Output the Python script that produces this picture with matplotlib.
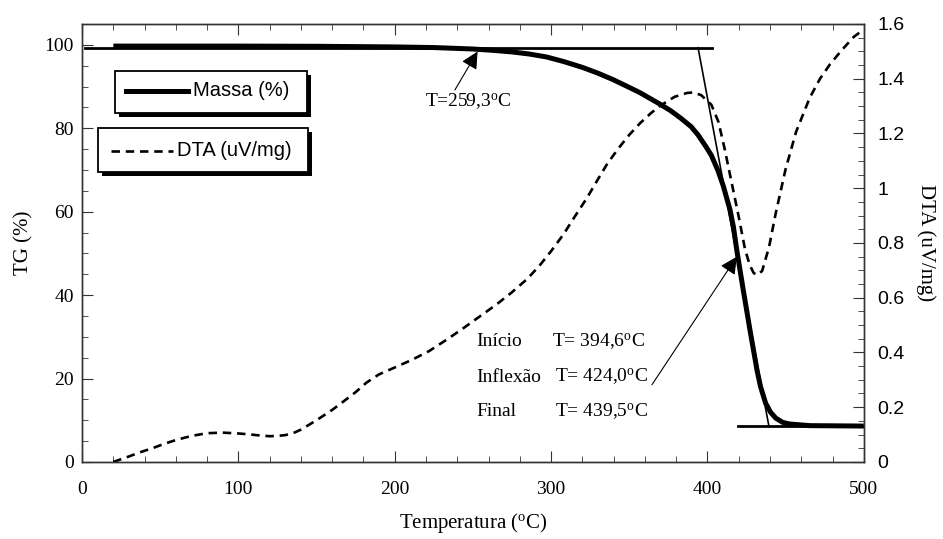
import numpy as np
import matplotlib
matplotlib.use('Agg')
import matplotlib.pyplot as plt
from matplotlib.patches import Rectangle
from matplotlib.lines import Line2D
from matplotlib.ticker import MultipleLocator, FuncFormatter

plt.rcParams['font.family'] = ['Liberation Serif', 'DejaVu Serif']
plt.rcParams['mathtext.fontset'] = 'custom'
plt.rcParams['mathtext.rm'] = 'Liberation Serif'
plt.rcParams['mathtext.it'] = 'Liberation Serif:italic'

# TG curve (Massa %)
tg_temp = [20, 100, 150, 200, 225, 250, 262, 275, 286, 297, 308, 320, 330, 340,
           350.5, 357, 363.5, 370, 376.5, 383, 389.5, 394, 399.2, 402.5, 406.8, 410.1,
           414.4, 416.6, 418.8, 423, 427.4, 431.8, 434, 437.2, 440.4, 443.7, 448,
           452.4, 465.4, 500]
tg_mass = [99.7, 99.7, 99.65, 99.5, 99.35, 99.0, 98.7, 98.3, 97.8, 97.1, 96.0, 94.6, 93.2,
           91.6, 89.7, 88.5, 87.1, 85.7, 84.2, 82.4, 80.4, 78.4, 75.5, 73.5, 69.8, 66.2,
           60.5, 56.4, 50.7, 41.0, 31.2, 21.8, 18.0, 14.1, 11.9, 10.5, 9.5,
           9.1, 8.7, 8.6]

# DTA curve (uV/mg)
dta_temp = [20, 25, 30, 37, 45, 52, 60, 70, 80, 90, 100, 108, 115, 120, 125, 130, 135,
            140, 145, 152, 160, 167, 175, 182, 190, 200, 211, 222, 233, 243, 254, 265,
            275, 285, 293, 300, 308, 315, 323, 330, 336, 343, 350, 357, 364, 370, 379,
            387, 391, 396, 402.5, 407, 411, 415.5, 420, 424, 427, 429.6, 432, 435,
            439.4, 443.7, 450, 456.7, 465.4, 472, 478.4, 486, 493.6, 500]
dta_val = [0.0, 0.01, 0.02, 0.035, 0.05, 0.065, 0.08, 0.095, 0.105, 0.107, 0.104, 0.1,
           0.096, 0.094, 0.095, 0.098, 0.105, 0.118, 0.135, 0.16, 0.19, 0.22, 0.255, 0.29,
           0.32, 0.345, 0.373, 0.405, 0.446, 0.485, 0.53, 0.575, 0.62, 0.67, 0.72, 0.77,
           0.832, 0.895, 0.965, 1.033, 1.09, 1.145, 1.195, 1.238, 1.275, 1.302, 1.334,
           1.348, 1.35, 1.34, 1.305, 1.243, 1.144, 1.02, 0.896, 0.778, 0.72, 0.69, 0.683,
           0.698, 0.785, 0.909, 1.07, 1.206, 1.33, 1.4, 1.453, 1.505, 1.553, 1.58]

# tangent construction
onset_line_x = [2, 403]
onset_line_y = [99.3, 99.3]
slope_line_x = [394.0, 439.3]
slope_line_y = [99.3, 8.6]
final_line_x = [419.5, 500]
final_line_y = [8.6, 8.6]

fig = plt.figure(figsize=(9.43, 5.39), dpi=100)
ax = fig.add_axes([0.087, 0.143, 0.829, 0.8125])
ax2 = ax.twinx()

spine_c = '#333333'

ax.plot(tg_temp, tg_mass, color='black', lw=3.6, solid_capstyle='butt',
        solid_joinstyle='round', zorder=3)
ax.plot(onset_line_x, onset_line_y, color='black', lw=2.0, zorder=2)
ax.plot(slope_line_x, slope_line_y, color='black', lw=1.2, zorder=2)
ax.plot(final_line_x, final_line_y, color='black', lw=2.0, zorder=2)

ax2.plot(dta_temp, dta_val, color='black', lw=1.9, dashes=(3.2, 2.2))

ax.set_xlim(0, 500)
ax.set_ylim(0, 105)
ax2.set_ylim(0, 1.6)

ax.xaxis.set_major_locator(MultipleLocator(100))
ax.xaxis.set_minor_locator(MultipleLocator(20))
ax.yaxis.set_major_locator(MultipleLocator(20))
ax.yaxis.set_minor_locator(MultipleLocator(5))
ax2.yaxis.set_major_locator(MultipleLocator(0.2))
ax2.yaxis.set_minor_locator(MultipleLocator(0.05))
ax2.yaxis.set_major_formatter(FuncFormatter(lambda v, p: '%g' % round(v, 2)))

ax.tick_params(axis='x', which='both', direction='in', top=True, bottom=True,
               labelsize=14, color=spine_c, pad=14)
ax.tick_params(axis='y', which='both', direction='in', left=True, right=False,
               labelsize=14, color=spine_c, pad=6)
ax.tick_params(which='major', length=8)
ax.tick_params(which='minor', length=4.5)
ax2.tick_params(axis='y', which='both', direction='in', labelsize=14, color=spine_c, pad=10)
ax2.tick_params(which='major', length=8)
ax2.tick_params(which='minor', length=4.5)
for lab in ax2.get_yticklabels():
    lab.set_fontfamily(['Liberation Sans', 'DejaVu Sans'])

for a in (ax, ax2):
    for s in a.spines.values():
        s.set_color(spine_c)
        s.set_linewidth(1.0)

ax.set_xlabel(r'Temperatura ($^{\mathrm{o}}$C)', fontsize=15, labelpad=9)
ax.set_ylabel('TG (%)', fontsize=15, labelpad=8)
ax2.set_ylabel('DTA (uV/mg)', fontsize=15, rotation=270, labelpad=22)

# annotations
ax.text(219.3, 86.4, r'T=259,3$^{\mathrm{o}}$C', fontsize=14, va='center', ha='left')
ax.annotate('', xy=(253, 98.4), xytext=(238.5, 89.2),
            arrowprops=dict(arrowstyle='-|>', mutation_scale=26, lw=0.8,
                            color='black', shrinkA=0, shrinkB=0))

rows = [('Início', r'T= 394,6$^{\mathrm{o}}$C', 28.8, 300.3),
        ('Inflexão', r'T= 424,0$^{\mathrm{o}}$C', 20.3, 302.4),
        ('Final', r'T= 439,5$^{\mathrm{o}}$C', 12.1, 302.4)]
for name, val, yv, xv in rows:
    ax.text(252.3, yv, name, fontsize=14, va='center', ha='left')
    ax.text(xv, yv, val, fontsize=14, va='center', ha='left')
ax.annotate('', xy=(418.8, 49.2), xytext=(364.5, 18.5),
            arrowprops=dict(arrowstyle='-|>', mutation_scale=26, lw=0.8,
                            color='black', shrinkA=0, shrinkB=0))

# legend boxes with shadow (pixel coords -> figure fraction)
W, H = 943.0, 539.0
def box(x0, y0, x1, y1):
    sh = Rectangle((x0 / W + 4 / W, 1 - (y1 + 4) / H), (x1 - x0) / W, (y1 - y0) / H,
                   transform=fig.transFigure, facecolor='black', edgecolor='black', lw=0)
    bx = Rectangle((x0 / W, 1 - y1 / H), (x1 - x0) / W, (y1 - y0) / H,
                   transform=fig.transFigure, facecolor='white', edgecolor='black', lw=1.3)
    fig.add_artist(sh)
    fig.add_artist(bx)

box(115, 71, 307, 113)
fig.add_artist(Line2D([126 / W, 188 / W], [1 - 91 / H, 1 - 91 / H], transform=fig.transFigure,
                      color='black', lw=3.6))
fig.text(193 / W, 1 - 91 / H, 'Massa (%)', fontsize=14.5, va='center', ha='left',
         family=['Liberation Sans', 'DejaVu Sans'])

box(98, 128, 308, 172)
fig.add_artist(Line2D([111 / W, 173 / W], [1 - 151 / H, 1 - 151 / H], transform=fig.transFigure,
                      color='black', lw=1.9, dashes=(3.2, 2.2)))
fig.text(177 / W, 1 - 151 / H, 'DTA (uV/mg)', fontsize=14.5, va='center', ha='left',
         family=['Liberation Sans', 'DejaVu Sans'])

fig.savefig('out.png', dpi=100)
